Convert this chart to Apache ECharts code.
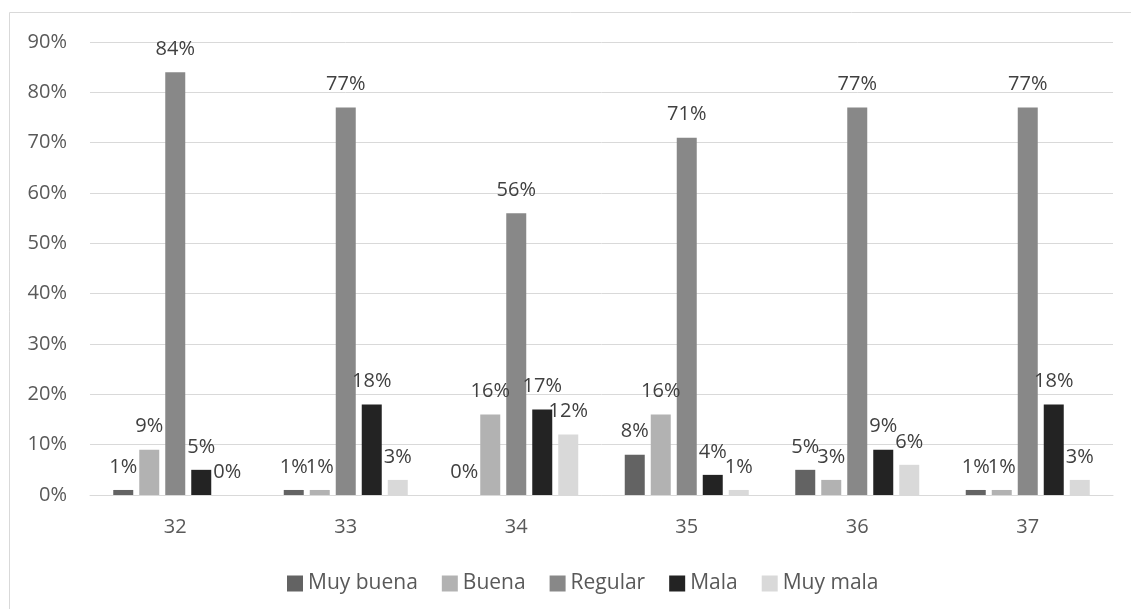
<!DOCTYPE html>
<html>
<head>
<meta charset="utf-8">
<script src="https://cdn.jsdelivr.net/npm/echarts@6/dist/echarts.min.js"></script>
<style>
html,body{margin:0;padding:0;background:#fff;}
#c{width:1131px;height:609px;}
</style>
</head>
<body>
<div id="c"></div>
<script>
const categories = ['32', '33', '34', '35', '36', '37'];
const muyBuena = [1, 1, 0, 8, 5, 1];
const buena = [9, 1, 16, 16, 3, 1];
const regular = [84, 77, 56, 71, 77, 77];
const mala = [5, 18, 17, 4, 9, 18];
const muyMala = [0, 3, 12, 1, 6, 3];
const yTicks = [0, 10, 20, 30, 40, 50, 60, 70, 80, 90];

const FONT = '"Open Sans", "Noto Sans", sans-serif';
const chart = echarts.init(document.getElementById('c'), null, {renderer: 'canvas'});

function mk(name, data, color) {
  return {
    name: name,
    type: 'bar',
    data: data,
    barWidth: 20,
    barGap: '30%',
    itemStyle: {color: color},
    label: {
      show: true,
      position: 'top',
      distance: 13,
      formatter: p => p.value + '%',
      color: '#404040',
      fontFamily: FONT,
      fontSize: 20
    },
    emphasis: {disabled: true},
    animation: false
  };
}

chart.setOption({
  animation: false,
  graphic: [{
    type: 'rect',
    shape: {x: 9.5, y: 12.5, width: 1200, height: 700},
    style: {fill: 'none', stroke: '#d9d9d9', lineWidth: 1},
    silent: true
  }],
  grid: {left: 90, right: 18, top: 42, bottom: 114, containLabel: false},
  legend: {
    left: 282,
    top: 568,
    itemWidth: 16,
    itemHeight: 16,
    itemGap: 24,
    icon: 'rect',
    textStyle: {color: '#595959', fontFamily: FONT, fontSize: 21},
    data: ['Muy buena', 'Buena', 'Regular', 'Mala', 'Muy mala']
  },
  xAxis: {
    type: 'category',
    data: categories,
    axisLine: {show: true, lineStyle: {color: '#d9d9d9', width: 1}},
    axisTick: {show: false},
    axisLabel: {color: '#595959', fontFamily: FONT, fontSize: 20, margin: 22}
  },
  yAxis: {
    type: 'value',
    min: yTicks[0],
    max: yTicks[yTicks.length - 1],
    interval: 10,
    axisLine: {show: false},
    axisTick: {show: false},
    splitLine: {lineStyle: {color: '#d9d9d9', width: 1}},
    axisLabel: {color: '#595959', fontFamily: FONT, fontSize: 20, margin: 23, formatter: v => v + '%'}
  },
  series: [
    mk('Muy buena', muyBuena, '#636363'),
    mk('Buena', buena, '#b2b2b2'),
    mk('Regular', regular, '#888888'),
    mk('Mala', mala, '#232323'),
    mk('Muy mala', muyMala, '#d9d9d9')
  ]
});
</script>
</body>
</html>
